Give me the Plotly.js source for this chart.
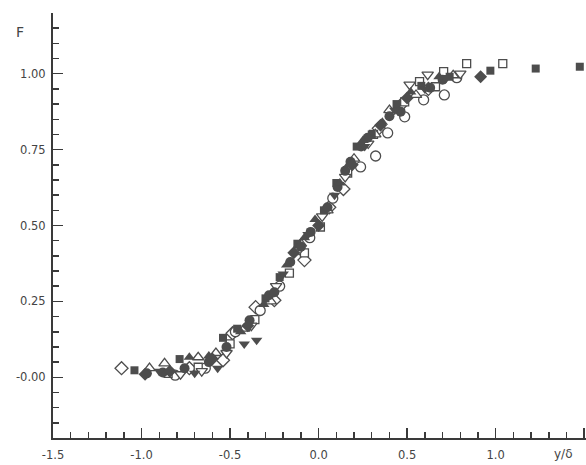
<!DOCTYPE html>
<html>
<head>
<meta charset="utf-8">
<script src="https://cdn.plot.ly/plotly-3.0.1.min.js"></script>
<style>html,body{margin:0;padding:0;background:#fff}#chart{width:586px;height:465px}</style>
</head>
<body>
<div id="chart"></div>
<script>
// Filled squares
const sqFilledX = [-1.04, -0.785, -0.54, -0.46, -0.30, -0.22, -0.12, 0.03, 0.10, 0.215, 0.30, 0.44, 0.58, 0.74, 0.97, 1.226, 1.475];
const sqFilledY = [0.023, 0.06, 0.13, 0.16, 0.26, 0.33, 0.44, 0.55, 0.64, 0.76, 0.80, 0.90, 0.96, 0.99, 1.01, 1.017, 1.023];
// Open squares
const sqOpenX = [-0.85, -0.68, -0.50, -0.36, -0.165, -0.08, 0.01, 0.164, 0.31, 0.486, 0.57, 0.66, 0.706, 0.836, 1.04];
const sqOpenY = [0.013, 0.033, 0.11, 0.19, 0.343, 0.41, 0.495, 0.673, 0.80, 0.907, 0.974, 0.957, 1.007, 1.033, 1.033];
// Open circles
const ciOpenX = [-0.81, -0.64, -0.47, -0.33, -0.22, -0.05, 0.08, 0.237, 0.322, 0.39, 0.486, 0.593, 0.71, 0.78];
const ciOpenY = [0.007, 0.03, 0.15, 0.22, 0.30, 0.46, 0.59, 0.693, 0.729, 0.805, 0.858, 0.914, 0.93, 0.987];
// Filled circles
const ciFilledX = [-0.97, -0.88, -0.757, -0.62, -0.52, -0.39, -0.28, -0.25, -0.16, -0.10, -0.045, 0.05, 0.107, 0.15, 0.18, 0.24, 0.277, 0.40, 0.463, 0.63, 0.70];
const ciFilledY = [0.013, 0.016, 0.03, 0.05, 0.10, 0.188, 0.27, 0.28, 0.38, 0.43, 0.479, 0.56, 0.627, 0.68, 0.71, 0.76, 0.789, 0.86, 0.875, 0.954, 0.98];
// Open triangles up
const trUpOpenX = [-0.955, -0.87, -0.68, -0.58, -0.42, -0.27, -0.10, 0.05, 0.20, 0.32, 0.40, 0.55, 0.76];
const trUpOpenY = [0.03, 0.046, 0.066, 0.08, 0.16, 0.25, 0.44, 0.55, 0.72, 0.80, 0.88, 0.93, 0.995];
// Filled triangles up
const trUpFilledX = [-0.73, -0.62, -0.44, -0.31, -0.18, -0.08, -0.02, 0.12, 0.17, 0.25, 0.36, 0.52, 0.68];
const trUpFilledY = [0.066, 0.07, 0.15, 0.24, 0.37, 0.46, 0.52, 0.64, 0.70, 0.78, 0.84, 0.94, 0.99];
// Filled triangles down
const trDnFilledX = [-0.90, -0.70, -0.57, -0.42, -0.35, -0.20, -0.06, 0.09, 0.26, 0.43, 0.60, 0.72];
const trDnFilledY = [0.02, 0.013, 0.03, 0.11, 0.122, 0.34, 0.47, 0.60, 0.76, 0.88, 0.95, 0.985];
// Open triangles down
const trDnOpenX = [-0.78, -0.66, -0.52, -0.38, -0.24, -0.11, 0.02, 0.15, 0.28, 0.514, 0.616, 0.80];
const trDnOpenY = [0.01, 0.02, 0.08, 0.17, 0.30, 0.42, 0.53, 0.66, 0.77, 0.964, 0.997, 1.0];
// Open diamonds
const diOpenX = [-1.113, -0.73, -0.54, -0.486, -0.356, -0.25, -0.08, 0.06, 0.14, 0.34, 0.47, 0.62];
const diOpenY = [0.03, 0.03, 0.056, 0.145, 0.231, 0.254, 0.386, 0.56, 0.62, 0.82, 0.90, 0.95];
// Filled diamonds
const diFilledX = [-0.98, -0.84, -0.60, -0.40, -0.14, 0.00, 0.19, 0.35, 0.50, 0.915];
const diFilledY = [0.01, 0.02, 0.06, 0.17, 0.41, 0.50, 0.70, 0.83, 0.92, 0.99];

const xTickVals = [-1.5, -1.0, -0.5, 0.0, 0.5, 1.0, 1.5];
const xTickText = ['-1.5', '-1.0', '-0.5', '0.0', '0.5', '1.0', ''];
const yTickVals = [0, 0.25, 0.5, 0.75, 1.0];
const yTickText = ['-0.00', '0.25', '0.50', '0.75', '1.00'];

const INK = '#4d4d4d';
function tr(x, y, symbol, size, open) {
  return {
    x: x, y: y, type: 'scatter', mode: 'markers', showlegend: false, cliponaxis: false,
    marker: {symbol: symbol, size: size, color: open ? '#ffffff' : INK,
             line: {color: INK, width: open ? 1.3 : 0}}
  };
}
const traces = [
  tr(diOpenX, diOpenY, 'diamond', 10, true),
  tr(ciOpenX, ciOpenY, 'circle', 10, true),
  tr(sqOpenX, sqOpenY, 'square', 8, true),
  tr(trUpOpenX, trUpOpenY, 'triangle-up', 10, true),
  tr(trDnOpenX, trDnOpenY, 'triangle-down', 10, true),
  tr(sqFilledX, sqFilledY, 'square', 8, false),
  tr(ciFilledX, ciFilledY, 'circle', 10, false),
  tr(trUpFilledX, trUpFilledY, 'triangle-up', 10, false),
  tr(trDnFilledX, trDnFilledY, 'triangle-down', 10, false),
  tr(diFilledX, diFilledY, 'diamond', 10, false)
];

const AX = '#3a3a3a';
const layout = {
  width: 586, height: 465,
  margin: {l: 53, r: 0, t: 13, b: 27, pad: 0},
  paper_bgcolor: '#ffffff', plot_bgcolor: '#ffffff',
  font: {family: 'DejaVu Sans, sans-serif', size: 11.5, color: '#444'},
  xaxis: {
    range: [-1.5, 1.51], showgrid: false, zeroline: false,
    showline: true, linecolor: AX, linewidth: 2,
    ticks: 'inside', ticklen: 10, tickwidth: 1.5, tickcolor: AX,
    tickvals: xTickVals, ticktext: xTickText, ticklabelstandoff: 5,
    minor: {ticks: 'inside', ticklen: 6, tickwidth: 1.5, tickcolor: AX, dtick: 0.1, tick0: 0, showgrid: false}
  },
  yaxis: {
    range: [-0.2, 1.2], showgrid: false, zeroline: false,
    showline: true, linecolor: AX, linewidth: 2,
    ticks: 'inside', ticklen: 10, tickwidth: 1.5, tickcolor: AX,
    tickvals: yTickVals, ticktext: yTickText, ticklabelstandoff: 3,
    minor: {ticks: 'inside', ticklen: 6, tickwidth: 1.5, tickcolor: AX, dtick: 0.05, tick0: 0, showgrid: false}
  },
  annotations: [
    {text: 'F', xref: 'paper', yref: 'paper', x: -0.062, y: 0.955, xanchor: 'center', yanchor: 'middle', showarrow: false, font: {size: 14, color: '#444'}},
    {text: 'y/δ', xref: 'paper', yref: 'paper', x: 0.958, y: -0.038, xanchor: 'center', yanchor: 'middle', showarrow: false, font: {size: 12, color: '#444'}}
  ]
};
Plotly.newPlot('chart', traces, layout, {displayModeBar: false, staticPlot: true});
</script>
</body>
</html>
